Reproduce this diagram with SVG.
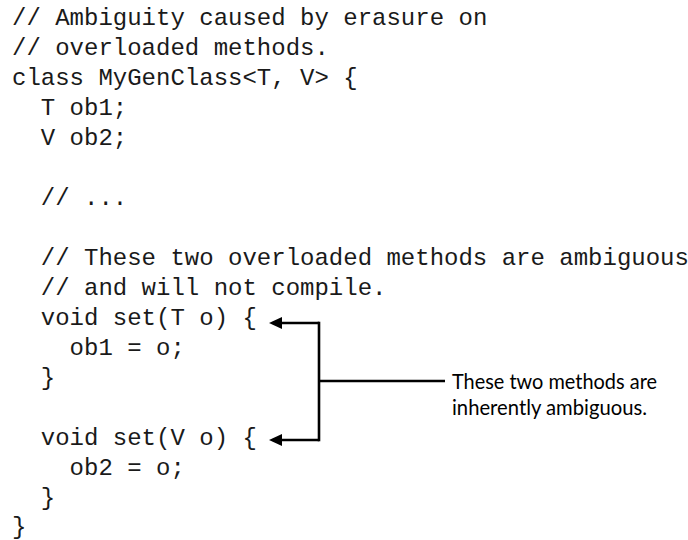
<svg xmlns="http://www.w3.org/2000/svg" width="688" height="540" viewBox="0 0 688 540">
<style>
.code{font-family:"Liberation Mono","Courier New",monospace;font-size:24px;fill:#1a1a1a;}
.note{font-family:Lato,"Noto Sans",sans-serif;font-size:21px;fill:#000;}
.ln{stroke:#000;stroke-width:2.6;fill:none;}
</style>
<defs>
<marker id="ah" viewBox="0 0 13 12" refX="0" refY="6" markerWidth="13" markerHeight="12" markerUnits="userSpaceOnUse" orient="auto">
<path d="M0,0 L13,6 L0,12 Z" fill="#000"/>
</marker>
</defs>
<rect width="688" height="540" fill="#fff"/>
<g id="code">
<text class="code" x="12" y="25">// Ambiguity caused by erasure on</text>
<text class="code" x="12" y="55">// overloaded methods.</text>
<text class="code" x="12" y="85">class MyGenClass&lt;T, V&gt; {</text>
<text class="code" x="40.8" y="115">T ob1;</text>
<text class="code" x="40.8" y="145">V ob2;</text>
<text class="code" x="40.8" y="205">// ...</text>
<text class="code" x="40.8" y="265">// These two overloaded methods are ambiguous</text>
<text class="code" x="40.8" y="295">// and will not compile.</text>
<text class="code" x="40.8" y="325">void set(T o) {</text>
<text class="code" x="69.6" y="355">ob1 = o;</text>
<text class="code" x="40.8" y="385">}</text>
<text class="code" x="40.8" y="445">void set(V o) {</text>
<text class="code" x="69.6" y="475">ob2 = o;</text>
<text class="code" x="40.8" y="505">}</text>
<text class="code" x="12" y="534">}</text>
</g>
<g id="connectors">
<path class="ln" d="M319,323 L282,323" marker-end="url(#ah)"/>
<path class="ln" d="M319,440 L282,440" marker-end="url(#ah)"/>
<path class="ln" d="M319,321.7 L319,441.3"/>
<path class="ln" d="M319,381 L445,381"/>
</g>
<g id="note">
<text class="note" x="452" y="389" textLength="205" lengthAdjust="spacingAndGlyphs">These two methods are</text>
<text class="note" x="452" y="415" textLength="195" lengthAdjust="spacingAndGlyphs">inherently ambiguous.</text>
</g>
</svg>
